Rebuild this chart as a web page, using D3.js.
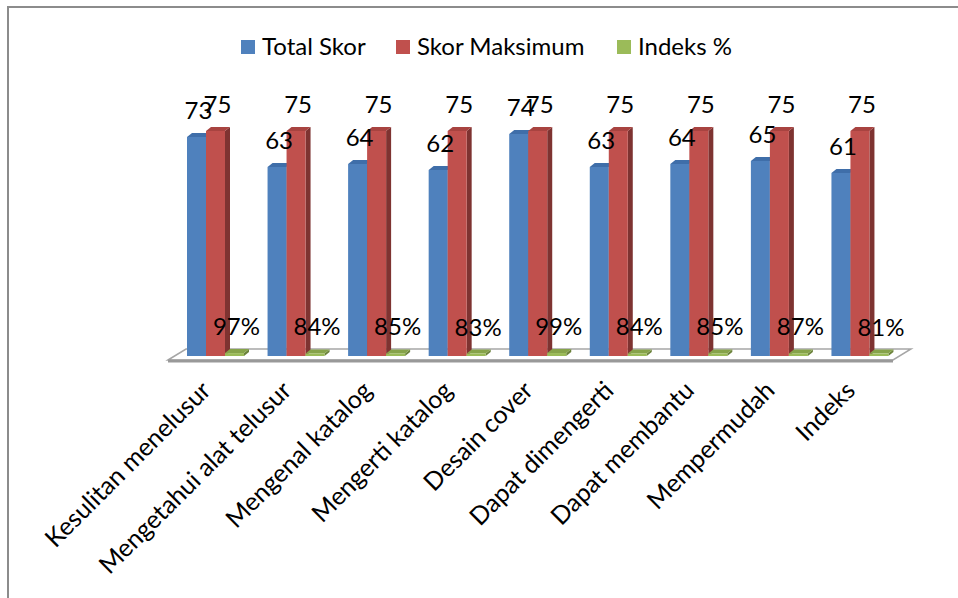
<!DOCTYPE html>
<head>
<meta charset="utf-8">
<title>Skor per aspek</title>
<script type="text/javascript" src="https://d3js.org/d3.v7.min.js"></script>
<style>
  body { margin: 0; background: #fff; }
  text { font-family: Lato, "Open Sans", sans-serif; fill: #000; }
</style>
</head>

<body>
<div id="container"></div>
<script>

// data
const categories = ["Kesulitan menelusur", "Mengetahui alat telusur", "Mengenal katalog",
  "Mengerti katalog", "Desain cover", "Dapat dimengerti", "Dapat membantu",
  "Mempermudah", "Indeks"];
const seriesNames = ["Total Skor", "Skor Maksimum", "Indeks %"];
const totalSkor = [73, 63, 64, 62, 74, 63, 64, 65, 61];
const skorMaks = [75, 75, 75, 75, 75, 75, 75, 75, 75];
const indeks = [0.97, 0.84, 0.85, 0.83, 0.99, 0.84, 0.85, 0.87, 0.81];

function chart() {
  const width = 958, height = 598;
  const floorY = 356;           // base of the bars
  const depth = {dx: 5, dy: -4}; // bar depth
  // colours: front, top, side
  const colours = {
    "Total Skor":    ["#4F81BD", "#3F6EA9", "#34577F"],
    "Skor Maksimum": ["#C0504D", "#A84340", "#7E3331"],
    "Indeks %":      ["#9BBB59", "#86A34A", "#6B823B"]
  };

  const svg = d3.select("div#container").append("svg")
      .attr("width", width).attr("height", height);

  // frame (only the top and left edges are in the picture)
  svg.append("path")
     .attr("d", `M8,${height} L8,7 L${width},7`)
     .attr("fill", "none").attr("stroke", "#8c8c8c").attr("stroke-width", 2);

  const x0 = d3.scaleBand().domain(categories).range([168, 893]);
  const x1 = d3.scaleBand().domain(seriesNames).range([19, 76]);
  const y = d3.scaleLinear().domain([0, 75]).range([floorY, 131]);

  // floor
  const fl = {x0: 168, x1: 893, yf: 360, dx: 18, dy: -11};
  svg.append("path")
     .attr("d", `M${fl.x0},${fl.yf} L${fl.x0 + fl.dx},${fl.yf + fl.dy} L${fl.x1 + fl.dx},${fl.yf + fl.dy} L${fl.x1},${fl.yf} Z`)
     .attr("fill", "#fff").attr("stroke", "#a6a6a6").attr("stroke-width", 1.5);
  svg.append("line")
     .attr("x1", fl.x0).attr("x2", fl.x1).attr("y1", fl.yf + 1).attr("y2", fl.yf + 1)
     .attr("stroke", "#999").attr("stroke-width", 3);

  const rows = categories.map((c, i) => ({
    cat: c,
    bars: [
      {s: "Total Skor", v: totalSkor[i], label: String(totalSkor[i])},
      {s: "Skor Maksimum", v: skorMaks[i], label: String(skorMaks[i])},
      {s: "Indeks %", v: indeks[i], label: Math.round(indeks[i] * 100) + "%"}
    ]
  }));

  const groups = svg.append("g").selectAll("g").data(rows).join("g")
      .attr("transform", d => `translate(${x0(d.cat)},0)`);

  const bar = groups.selectAll("g").data(d => d.bars).join("g");
  const bw = x1.bandwidth();
  // side
  bar.append("path")
     .attr("d", d => {
        const xa = x1(d.s) + bw, yt = y(d.v);
        return `M${xa},${floorY} L${xa},${yt} L${xa + depth.dx},${yt + depth.dy} L${xa + depth.dx},${floorY + depth.dy} Z`;
     })
     .attr("fill", d => colours[d.s][2]);
  // top
  bar.append("path")
     .attr("d", d => {
        const xa = x1(d.s), yt = y(d.v);
        return `M${xa},${yt} L${xa + depth.dx},${yt + depth.dy} L${xa + bw + depth.dx},${yt + depth.dy} L${xa + bw},${yt} Z`;
     })
     .attr("fill", d => colours[d.s][1]);
  // front
  bar.append("rect")
     .attr("x", d => x1(d.s)).attr("width", bw)
     .attr("y", d => y(d.v)).attr("height", d => floorY - y(d.v))
     .attr("fill", d => colours[d.s][0]);

  // value labels
  groups.selectAll("text.val").data(d => d.bars).join("text")
     .attr("class", "val")
     .attr("x", d => x1(d.s) + bw / 2 + 2)
     .attr("y", d => y(d.v) - 18)
     .attr("text-anchor", "middle")
     .attr("font-size", 24)
     .text(d => d.label);

  // category labels
  svg.append("g").selectAll("text").data(categories).join("text")
     .attr("transform", d => `translate(${x0(d) + x0.bandwidth() / 2 + 4},392) rotate(-45)`)
     .attr("text-anchor", "end")
     .attr("font-size", 25)
     .text(d => d);

  // legend
  const legendX = [241, 396, 617];
  const legend = svg.append("g").selectAll("g").data(seriesNames).join("g")
     .attr("transform", (d, i) => `translate(${legendX[i]},40)`);
  legend.append("rect").attr("width", 14).attr("height", 14)
     .attr("fill", d => colours[d][0]);
  legend.append("text").attr("x", 21).attr("y", 15)
     .attr("font-size", 24).text(d => d);

  return svg.node();
}

chart();

</script>
</body>
